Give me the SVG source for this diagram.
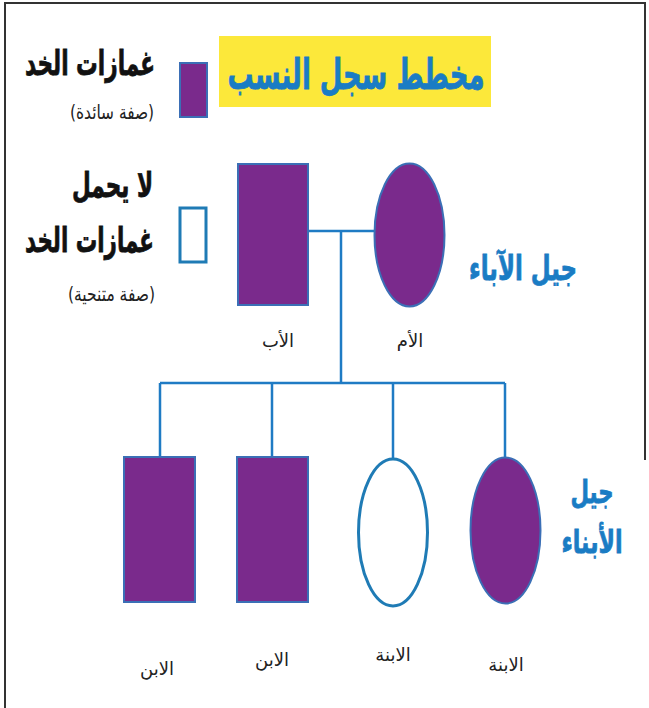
<svg xmlns="http://www.w3.org/2000/svg" width="649" height="708" viewBox="0 0 649 708">
<style>
.frame{stroke:#333;stroke-width:2;fill:none}
.aff{fill:#7a2a8c;stroke:#3b6fb6;stroke-width:2}
.un{fill:#fff;stroke:#1f7bb5;stroke-width:3}
.ln{stroke:#1f7bc4;stroke-width:2.5;fill:none}
.blk{font-family:"DejaVu Sans",sans-serif;font-weight:bold;fill:#111;stroke:#111;stroke-width:0.8}
.sm{font-family:"DejaVu Sans",sans-serif;fill:#222}
.blue{font-family:"DejaVu Sans",sans-serif;font-weight:bold;fill:#1a7cc4;stroke:#1a7cc4;stroke-width:0.8}
</style>
<rect width="649" height="708" fill="#fff"/>
<g id="frame">
<path class="frame" d="M5,708 V3 H645 V460"/>
</g>
<g id="title">
<rect x="219" y="36" width="272" height="71" fill="#fce83a"/>
<text class="blue" x="356" y="89" font-size="42" text-anchor="middle" textLength="257" lengthAdjust="spacingAndGlyphs">مخطط سجل النسب</text>
</g>
<g id="legend-dominant">
<rect class="aff" x="180" y="63" width="27" height="54"/>
<text class="blk" x="155" y="75" font-size="34" text-anchor="end" textLength="130" lengthAdjust="spacingAndGlyphs">غمازات الخد</text>
<text class="sm" x="154" y="119" font-size="20" text-anchor="end" textLength="84" lengthAdjust="spacingAndGlyphs">(صفة سائدة)</text>
</g>
<g id="legend-recessive">
<rect class="un" x="180" y="208" width="26" height="54" stroke-width="2.5"/>
<text class="blk" x="153" y="197" font-size="34" text-anchor="end" textLength="81" lengthAdjust="spacingAndGlyphs">لا يحمل</text>
<text class="blk" x="154" y="252" font-size="34" text-anchor="end" textLength="129" lengthAdjust="spacingAndGlyphs">غمازات الخد</text>
<text class="sm" x="155" y="301" font-size="20" text-anchor="end" textLength="87" lengthAdjust="spacingAndGlyphs">(صفة متنحية)</text>
</g>
<g id="connectors">
<path class="ln" d="M308,231 H374"/>
<path class="ln" d="M341,231 V383"/>
<path class="ln" d="M160,383 H505"/>
<path class="ln" d="M160,383 V457 M272,383 V457 M393,383 V458 M505,383 V457"/>
</g>
<g id="father">
<rect class="aff" x="238" y="164" width="70" height="141"/>
<text class="sm" x="278" y="347" font-size="18" text-anchor="middle">الأب</text>
</g>
<g id="mother">
<ellipse class="aff" cx="409.5" cy="235" rx="35" ry="71.5"/>
<text class="sm" x="410" y="347" font-size="18" text-anchor="middle">الأم</text>
</g>
<g id="gen-parents">
<text class="blue" x="523" y="280" font-size="34" text-anchor="middle" textLength="108" lengthAdjust="spacingAndGlyphs">جيل الآباء</text>
</g>
<g id="son1">
<rect class="aff" x="124" y="457" width="71" height="145"/>
<text class="sm" x="157" y="675" font-size="18" text-anchor="middle">الابن</text>
</g>
<g id="son2">
<rect class="aff" x="237" y="457" width="71" height="145"/>
<text class="sm" x="272" y="666" font-size="18" text-anchor="middle">الابن</text>
</g>
<g id="daughter1">
<ellipse class="un" cx="393" cy="532.5" rx="34.5" ry="73.5"/>
<text class="sm" x="393" y="661" font-size="18" text-anchor="middle">الابنة</text>
</g>
<g id="daughter2">
<ellipse class="aff" cx="505.5" cy="530.5" rx="35" ry="73"/>
<text class="sm" x="506" y="671" font-size="18" text-anchor="middle">الابنة</text>
</g>
<g id="gen-children">
<text class="blue" x="592" y="503" font-size="32" text-anchor="middle" textLength="43" lengthAdjust="spacingAndGlyphs">جيل</text>
<text class="blue" x="592" y="553" font-size="32" text-anchor="middle" textLength="61" lengthAdjust="spacingAndGlyphs">الأبناء</text>
</g>
</svg>
